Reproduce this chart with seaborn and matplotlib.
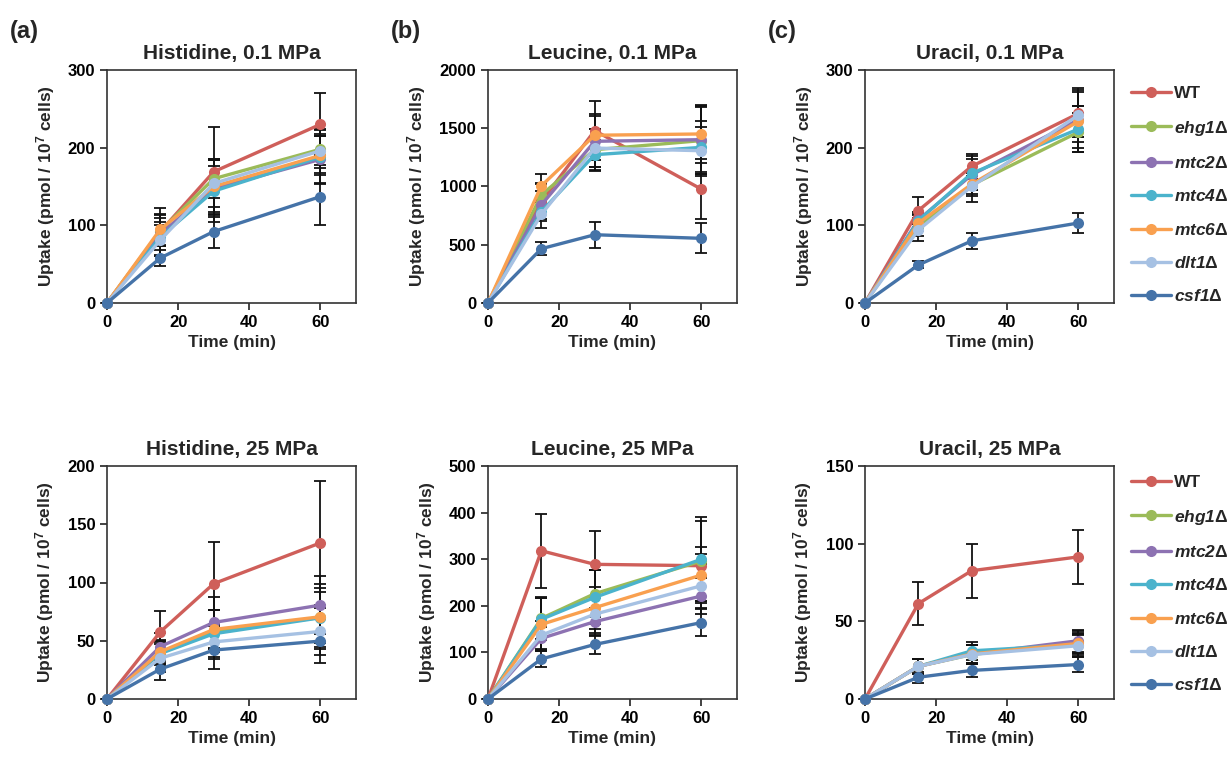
import numpy as np
import pandas as pd
import matplotlib
matplotlib.use("Agg")
import matplotlib.pyplot as plt
import seaborn as sns
from matplotlib.lines import Line2D

# ---------------- data ----------------
TIMES = [0, 15, 30, 60]
STRAINS = ["WT", "ehg1Δ", "mtc2Δ", "mtc4Δ", "mtc6Δ", "dlt1Δ", "csf1Δ"]
LEGEND_LABELS = ["WT", r"$\mathit{ehg1}$Δ", r"$\mathit{mtc2}$Δ", r"$\mathit{mtc4}$Δ",
                 r"$\mathit{mtc6}$Δ", r"$\mathit{dlt1}$Δ", r"$\mathit{csf1}$Δ"]
COLORS = ["#CF5F5A", "#9BBB59", "#8D72B2", "#4BB3CC", "#F9A04F", "#A6C1E3", "#4573A8"]

PANEL_TITLES = ["Histidine, 0.1 MPa", "Leucine, 0.1 MPa", "Uracil, 0.1 MPa",
                "Histidine, 25 MPa", "Leucine, 25 MPa", "Uracil, 25 MPa"]
PANEL_LETTERS = ["(a)", "(b)", "(c)"]

his01_mean = [[0, 92, 169, 230], [0, 93, 160, 198], [0, 89, 147, 185], [0, 85, 144, 188],
              [0, 95, 150, 190], [0, 81, 154, 196], [0, 58, 92, 137]]
his01_sd = [[0, 30, 58, 40], [0, 20, 25, 20], [0, 15, 30, 30], [0, 25, 40, 35],
            [0, 20, 35, 25], [0, 20, 30, 28], [0, 10, 21, 37]]

leu01_mean = [[0, 870, 1480, 977], [0, 928, 1316, 1394], [0, 842, 1388, 1402], [0, 784, 1273, 1336],
              [0, 1006, 1440, 1451], [0, 761, 1330, 1307], [0, 466, 586, 555]]
leu01_sd = [[0, 150, 250, 260], [0, 100, 180, 300], [0, 120, 220, 280], [0, 80, 130, 230],
            [0, 100, 180, 250], [0, 120, 160, 200], [0, 55, 112, 130]]

ura01_mean = [[0, 119, 176, 244], [0, 98, 152, 220], [0, 107, 165, 236], [0, 106, 167, 224],
              [0, 103, 153, 234], [0, 94, 150, 242], [0, 49, 80, 103]]
ura01_sd = [[0, 17, 16, 30], [0, 12, 12, 25], [0, 10, 20, 36], [0, 8, 22, 30],
            [0, 10, 15, 20], [0, 14, 20, 35], [0, 4.5, 10, 13]]

his25_mean = [[0, 57.7, 99, 134], [0, 40, 58, 70], [0, 45, 65.7, 80.6], [0, 39, 56, 69.7],
              [0, 40.6, 59.7, 70.6], [0, 35, 49, 58], [0, 25.7, 42, 49.7]]
his25_sd = [[0, 18, 36, 53], [0, 10, 18, 25], [0, 12, 22, 25], [0, 10, 20, 22],
            [0, 10, 17, 28], [0, 12, 15, 20], [0, 9, 16, 19]]

leu25_mean = [[0, 318, 289, 286], [0, 173, 226, 296], [0, 130, 166, 221], [0, 171, 218, 300],
              [0, 160, 196, 266], [0, 137, 182, 243], [0, 86, 117, 164]]
leu25_sd = [[0, 80, 72, 25], [0, 45, 50, 85], [0, 25, 30, 38], [0, 45, 58, 90],
            [0, 56, 45, 60], [0, 30, 40, 47], [0, 17, 21, 29]]

ura25_mean = [[0, 61.4, 82.6, 91.5], [0, 21, 28.6, 36.5], [0, 21, 29, 37.5], [0, 21, 31, 35],
              [0, 21, 29, 35.8], [0, 21, 28.6, 34.3], [0, 14, 18.4, 22.2]]
ura25_sd = [[0, 14, 17.5, 17.5], [0, 5, 6, 7], [0, 5, 6, 7], [0, 5, 6, 7],
            [0, 5, 6, 7], [0, 5, 6, 7], [0, 3.5, 4, 5]]

MEANS = [his01_mean, leu01_mean, ura01_mean, his25_mean, leu25_mean, ura25_mean]
SDS = [his01_sd, leu01_sd, ura01_sd, his25_sd, leu25_sd, ura25_sd]
YMAX = [300, 2000, 300, 200, 500, 150]
YSTEP = [100, 500, 100, 50, 100, 50]

# ---------------- style ----------------
sns.set_theme(style="ticks")
plt.rcParams["font.family"] = ["Liberation Sans", "DejaVu Sans"]
plt.rcParams["font.weight"] = "bold"
plt.rcParams["mathtext.fontset"] = "custom"
plt.rcParams["mathtext.it"] = "Liberation Sans:italic:bold"
plt.rcParams["mathtext.rm"] = "Liberation Sans:italic:bold"
plt.rcParams["mathtext.sf"] = "Liberation Sans:bold"
plt.rcParams["mathtext.bf"] = "Liberation Sans:bold"

W, H = 1229, 767
fig = plt.figure(figsize=(W / 100, H / 100), dpi=100)

lefts_px = [107, 488, 865]
tops_px = [70, 466]
aw_px, ah_px = 249, 233

axes = []
for r in range(2):
    for c in range(3):
        l = lefts_px[c] / W
        b = 1 - (tops_px[r] + ah_px) / H
        axes.append(fig.add_axes([l, b, aw_px / W, ah_px / H]))

for i, ax in enumerate(axes):
    rows = []
    for s, name in enumerate(STRAINS):
        for t, m, e in zip(TIMES, MEANS[i][s], SDS[i][s]):
            rows.append({"Time": t, "Uptake": m, "sd": e, "Strain": name})
    df = pd.DataFrame(rows)

    for s, name in enumerate(STRAINS):
        sub = df[df["Strain"] == name]
        ax.errorbar(sub["Time"], sub["Uptake"], yerr=sub["sd"], fmt="none",
                    ecolor="#111111", elinewidth=1.3, capsize=4.5, capthick=1.3,
                    zorder=1.5, clip_on=False)

    sns.lineplot(data=df, x="Time", y="Uptake", hue="Strain", hue_order=STRAINS,
                 palette=COLORS, marker="o", markersize=8, markeredgewidth=0,
                 linewidth=2.4, ax=ax, legend=False, zorder=3, clip_on=False,
                 errorbar=None)
    for ln in ax.lines:
        ln.set_clip_on(False)

    ax.set_xlim(0, 70)
    ax.set_ylim(0, YMAX[i])
    ax.set_xticks([0, 20, 40, 60])
    ax.set_yticks(np.arange(0, YMAX[i] + 1, YSTEP[i]))
    ax.tick_params(axis="both", labelsize=12, direction="out", length=5, width=1.2,
                   colors="#222222", labelcolor="black")
    for lab in ax.get_xticklabels() + ax.get_yticklabels():
        lab.set_fontweight("bold")
    for sp in ax.spines.values():
        sp.set_linewidth(1.2)
        sp.set_color("#333333")
    ax.set_xlabel("Time (min)", fontsize=12.5, fontweight="bold", labelpad=4)
    ax.set_ylabel(r"Uptake (pmol / 10$^{\mathsf{7}}$ cells)", fontsize=12.5,
                  fontweight="bold", labelpad=8)
    ax.set_title(PANEL_TITLES[i], fontsize=15, fontweight="bold", pad=8)

for c, letter in enumerate(PANEL_LETTERS):
    fig.text((lefts_px[c] - 97) / W, 1 - 38 / H, letter, fontsize=17, fontweight="bold")

handles = [Line2D([], [], color=col, marker="o", markersize=8, markeredgewidth=0, linewidth=2.4)
           for col in COLORS]
for r, top in enumerate([86, 475]):
    fig.legend(handles, LEGEND_LABELS, loc="upper left",
               bbox_to_anchor=(1131 / W, 1 - top / H), frameon=False,
               prop={"size": 12.5, "weight": "bold"}, handlelength=2.3,
               handletextpad=0.2, labelspacing=1.0, borderaxespad=0, borderpad=0)

fig.savefig("out.png", dpi=100)
